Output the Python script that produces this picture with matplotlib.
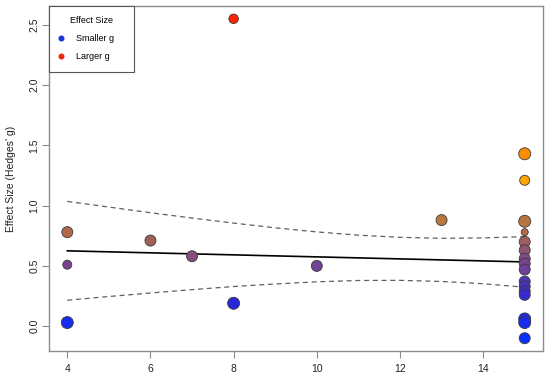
import numpy as np
import matplotlib.pyplot as plt
from matplotlib.colors import LinearSegmentedColormap
from matplotlib.lines import Line2D

plt.rcParams['font.family'] = ['Liberation Sans', 'DejaVu Sans']

# study values: moderator (x), Hedges' g, marker diameter (px, ~weight)
study_x = [4, 4, 4, 6, 7, 8, 8, 10, 13,
           15, 15, 15, 15, 15, 15, 15, 15, 15, 15, 15, 15, 15, 15, 15, 15]
study_g = [0.78, 0.51, 0.03, 0.71, 0.58, 2.55, 0.19, 0.50, 0.88,
           1.43, 1.21, 0.87, 0.78, 0.70, 0.63, 0.56, 0.52, 0.47,
           0.37, 0.33, 0.29, 0.26, 0.06, 0.03, -0.10]
study_d = [11, 9, 12, 11, 11, 9.5, 12, 11, 11,
           12, 10, 12, 7, 11, 11, 11, 11, 11,
           11, 11, 11, 11, 12, 12, 11]

# meta-regression line and 95% CI
reg_x = [4, 15]
reg_y = [0.625, 0.533]
ci_x = [4, 5, 6, 7, 8, 9, 10, 11, 12, 13, 14, 15]
ci_upper = [1.035, 0.988, 0.941, 0.897, 0.855, 0.816, 0.782, 0.755, 0.737, 0.729, 0.732, 0.743]
ci_lower = [0.215, 0.246, 0.275, 0.303, 0.329, 0.350, 0.368, 0.379, 0.380, 0.371, 0.352, 0.323]

# colour ramp along g (blue -> purple -> brown -> orange -> red)
ramp_g = [-0.10, 0.19, 0.30, 0.50, 0.71, 0.78, 0.88, 1.20, 1.43, 2.55]
ramp_c = ['#0a30ff', '#2a24d8', '#4030c8', '#764392', '#a0605a', '#b06a48', '#b87840',
          '#ffa500', '#ff8c00', '#ff2200']

gmin, gmax = min(ramp_g), max(ramp_g)
cmap = LinearSegmentedColormap.from_list(
    'gramp', [((g - gmin) / (gmax - gmin), c) for g, c in zip(ramp_g, ramp_c)])

fig = plt.figure(figsize=(5.5, 3.77), dpi=100)
ax = fig.add_axes([49 / 550, 26 / 377, 494 / 550, 345 / 377])

ax.plot(ci_x, ci_upper, color='#606060', lw=0.9, dashes=(4, 3))
ax.plot(ci_x, ci_lower, color='#606060', lw=0.9, dashes=(4, 3))
ax.plot(reg_x, reg_y, color='black', lw=1.2)

sizes = [(d * 0.72) ** 2 for d in study_d]
ax.scatter(study_x, study_g, s=sizes, c=study_g, cmap=cmap, vmin=gmin, vmax=gmax,
           edgecolors='#3a3a3a', linewidths=0.6, zorder=3)

ax.set_xlim(3.56, 15.44)
ax.set_ylim(-0.206, 2.656)
ax.set_xticks([4, 6, 8, 10, 12, 14])
ax.set_yticks([0.0, 0.5, 1.0, 1.5, 2.0, 2.5])
ax.set_yticklabels(['0.0', '0.5', '1.0', '1.5', '2.0', '2.5'], rotation=90, va='center')

for sp in ax.spines.values():
    sp.set_color('#8c8c8c')
    sp.set_linewidth(1.0)
ax.tick_params(colors='#8c8c8c', length=5, width=0.8, labelsize=7.5, labelcolor='#222222')
ax.tick_params(axis='y', pad=2)
ax.tick_params(axis='x', pad=4)

ax.set_ylabel("Effect Size (Hedges' g)", fontsize=7.5, color='#222222')
ax.yaxis.set_label_coords(-0.066, 0.5)

handles = [Line2D([], [], ls='', marker='o', ms=3.3, color='#1a35d8', mec='#1a35d8'),
           Line2D([], [], ls='', marker='o', ms=3.3, color='#e82a10', mec='#e82a10')]
leg = ax.legend(handles, ['Smaller g', 'Larger g'], title='Effect Size', loc='upper left',
                bbox_to_anchor=(0, 0, 85 / 494, 1), mode='expand', borderaxespad=0,
                fancybox=False, framealpha=1, edgecolor='#555555', fontsize=6.5,
                title_fontsize=6.5, borderpad=1.15, labelspacing=1.0, handletextpad=1.4,
                handlelength=0.4)
leg.get_frame().set_linewidth(0.8)

fig.savefig('out.png', dpi=100)
